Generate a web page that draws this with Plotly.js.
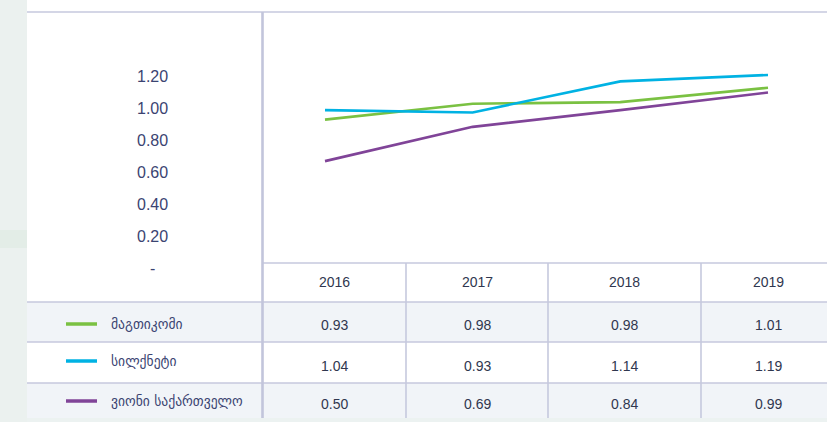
<!DOCTYPE html>
<html>
<head>
<meta charset="utf-8">
<script src="https://cdn.plot.ly/plotly-3.0.1.min.js"></script>
<style>
  html, body { margin: 0; padding: 0; background: #ffffff; }
  #chart { width: 827px; height: 422px; }
</style>
</head>
<body>
<div id="chart"></div>
<script>
// ---------- data ----------
const years = [2016, 2017, 2018, 2019];
const yearLabels = ['2016', '2017', '2018', '2019'];
const seriesNames = ['მაგთიკომი', 'სილქნეტი', 'ვიონი საქართველო'];

// values of the drawn lines
const magticomLine = [0.93, 1.03, 1.04, 1.13];
const silknetLine  = [0.99, 0.975, 1.17, 1.21];
const veonLine     = [0.67, 0.885, 0.99, 1.10];

// values printed in the data table
const magticomTable = [0.93, 0.98, 0.98, 1.01];
const silknetTable  = [1.04, 0.93, 1.14, 1.19];
const veonTable     = [0.50, 0.69, 0.84, 0.99];

const yTickVals = [0, 0.2, 0.4, 0.6, 0.8, 1.0, 1.2];
const yTickText = ['-', '0.20', '0.40', '0.60', '0.80', '1.00', '1.20'];

// ---------- layout helpers ----------
const W = 827, H = 422;
const px = v => v / W;
const py = v => 1 - v / H;

const colors = ['#7ac142', '#00b2e3', '#804498'];
const lineSeries = [magticomLine, silknetLine, veonLine];
const tableSeries = [magticomTable, silknetTable, veonTable];

const gridColor = '#c6c9de';
const textColor = '#3b4472';
const numColor = '#30374f';
const FONT = 'Liberation Sans, Arial, DejaVu Sans, sans-serif';

// table geometry (pixels)
const colEdges = [263, 406, 548, 701, 835];
const rowEdges = [263, 302, 342, 383, 423];
const leftEdge = 27;

const traces = lineSeries.map((vals, i) => ({
  type: 'scatter',
  mode: 'lines',
  x: years,
  y: vals,
  name: seriesNames[i],
  line: { color: colors[i], width: 2.6 },
  hoverinfo: 'skip',
  showlegend: false
}));

const shapes = [];
// left background strip
shapes.push({ type: 'rect', xref: 'paper', yref: 'paper', x0: 0, x1: px(leftEdge), y0: 0, y1: 1,
  fillcolor: '#ebf1ef', line: { width: 0 }, layer: 'below' });
shapes.push({ type: 'rect', xref: 'paper', yref: 'paper', x0: 0, x1: px(leftEdge), y0: py(248), y1: py(230),
  fillcolor: '#e3ede7', line: { width: 0 }, layer: 'below' });
// bottom background strip
shapes.push({ type: 'rect', xref: 'paper', yref: 'paper', x0: px(leftEdge), x1: 1, y0: 0, y1: py(418),
  fillcolor: '#ecf2f1', line: { width: 0 }, layer: 'above' });
// shaded rows
[1, 3].forEach(r => {
  shapes.push({ type: 'rect', xref: 'paper', yref: 'paper', x0: px(leftEdge), x1: 1,
    y0: py(rowEdges[r + 1]), y1: py(rowEdges[r]),
    fillcolor: '#f1f4f8', line: { width: 0 }, layer: 'below' });
});
// top border
shapes.push({ type: 'line', xref: 'paper', yref: 'paper', x0: px(leftEdge), x1: 1, y0: py(12), y1: py(12),
  line: { color: gridColor, width: 1.6 } });
// header top line (right part only)
shapes.push({ type: 'line', xref: 'paper', yref: 'paper', x0: px(263), x1: 1, y0: py(263), y1: py(263),
  line: { color: gridColor, width: 1.6 } });
// row separators
[302, 342, 383].forEach(y => {
  shapes.push({ type: 'line', xref: 'paper', yref: 'paper', x0: px(leftEdge), x1: 1, y0: py(y), y1: py(y),
    line: { color: gridColor, width: 1.6 } });
});
// main vertical separator
shapes.push({ type: 'line', xref: 'paper', yref: 'paper', x0: px(262.5), x1: px(262.5), y0: py(418), y1: py(12),
  line: { color: '#c2c5db', width: 2.6 } });
// column separators
[406, 548, 701].forEach(x => {
  shapes.push({ type: 'line', xref: 'paper', yref: 'paper', x0: px(x), x1: px(x), y0: py(418), y1: py(263),
    line: { color: gridColor, width: 1.6 } });
});
// legend line samples
const rowCentersLegend = [324, 361, 401];
rowCentersLegend.forEach((y, i) => {
  shapes.push({ type: 'line', xref: 'paper', yref: 'paper', x0: px(66), x1: px(97), y0: py(y), y1: py(y),
    line: { color: colors[i], width: 3.5 } });
});

const annotations = [];
// y tick labels
yTickVals.forEach((v, i) => {
  annotations.push({ xref: 'paper', yref: 'y', x: px(152), y: v, text: yTickText[i],
    showarrow: false, xanchor: 'center', yanchor: 'middle',
    font: { family: FONT, size: 16, color: textColor } });
});
// header years
yearLabels.forEach((t, j) => {
  annotations.push({ xref: 'paper', yref: 'paper', x: px((colEdges[j] + colEdges[j + 1]) / 2), y: py(282),
    text: t, showarrow: false, xanchor: 'center', yanchor: 'middle',
    font: { family: FONT, size: 14, color: numColor } });
});
// table values
const rowCentersVals = [325, 366, 404];
tableSeries.forEach((vals, i) => {
  vals.forEach((v, j) => {
    annotations.push({ xref: 'paper', yref: 'paper', x: px((colEdges[j] + colEdges[j + 1]) / 2), y: py(rowCentersVals[i]),
      text: v.toFixed(2), showarrow: false, xanchor: 'center', yanchor: 'middle',
      font: { family: FONT, size: 14, color: numColor } });
  });
});
// legend names
seriesNames.forEach((n, i) => {
  annotations.push({ xref: 'paper', yref: 'paper', x: px(109), y: py(rowCentersLegend[i]),
    text: n, showarrow: false, xanchor: 'left', yanchor: 'middle',
    font: { family: 'DejaVu Sans, sans-serif', size: 13.6, color: textColor } });
});

// x: 2016 -> 325px, 2019 -> 768px inside domain [262, 827]
const pxPerYear = (768 - 325) / 3;
const xRange = [2016 - (325 - 262) / pxPerYear, 2019 + (827 - 768) / pxPerYear];

const layout = {
  width: W, height: H,
  margin: { l: 0, r: 0, t: 0, b: 0, pad: 0 },
  paper_bgcolor: '#ffffff',
  plot_bgcolor: 'rgba(0,0,0,0)',
  showlegend: false,
  xaxis: { domain: [px(262), 1], range: xRange, type: 'linear',
    showgrid: false, zeroline: false, showline: false, showticklabels: false, ticks: '' },
  yaxis: { domain: [py(268), py(12)], range: [0, 1.605],
    showgrid: false, zeroline: false, showline: false, showticklabels: false, ticks: '' },
  shapes: shapes,
  annotations: annotations
};

Plotly.newPlot('chart', traces, layout, { staticPlot: true, displayModeBar: false });
</script>
</body>
</html>
